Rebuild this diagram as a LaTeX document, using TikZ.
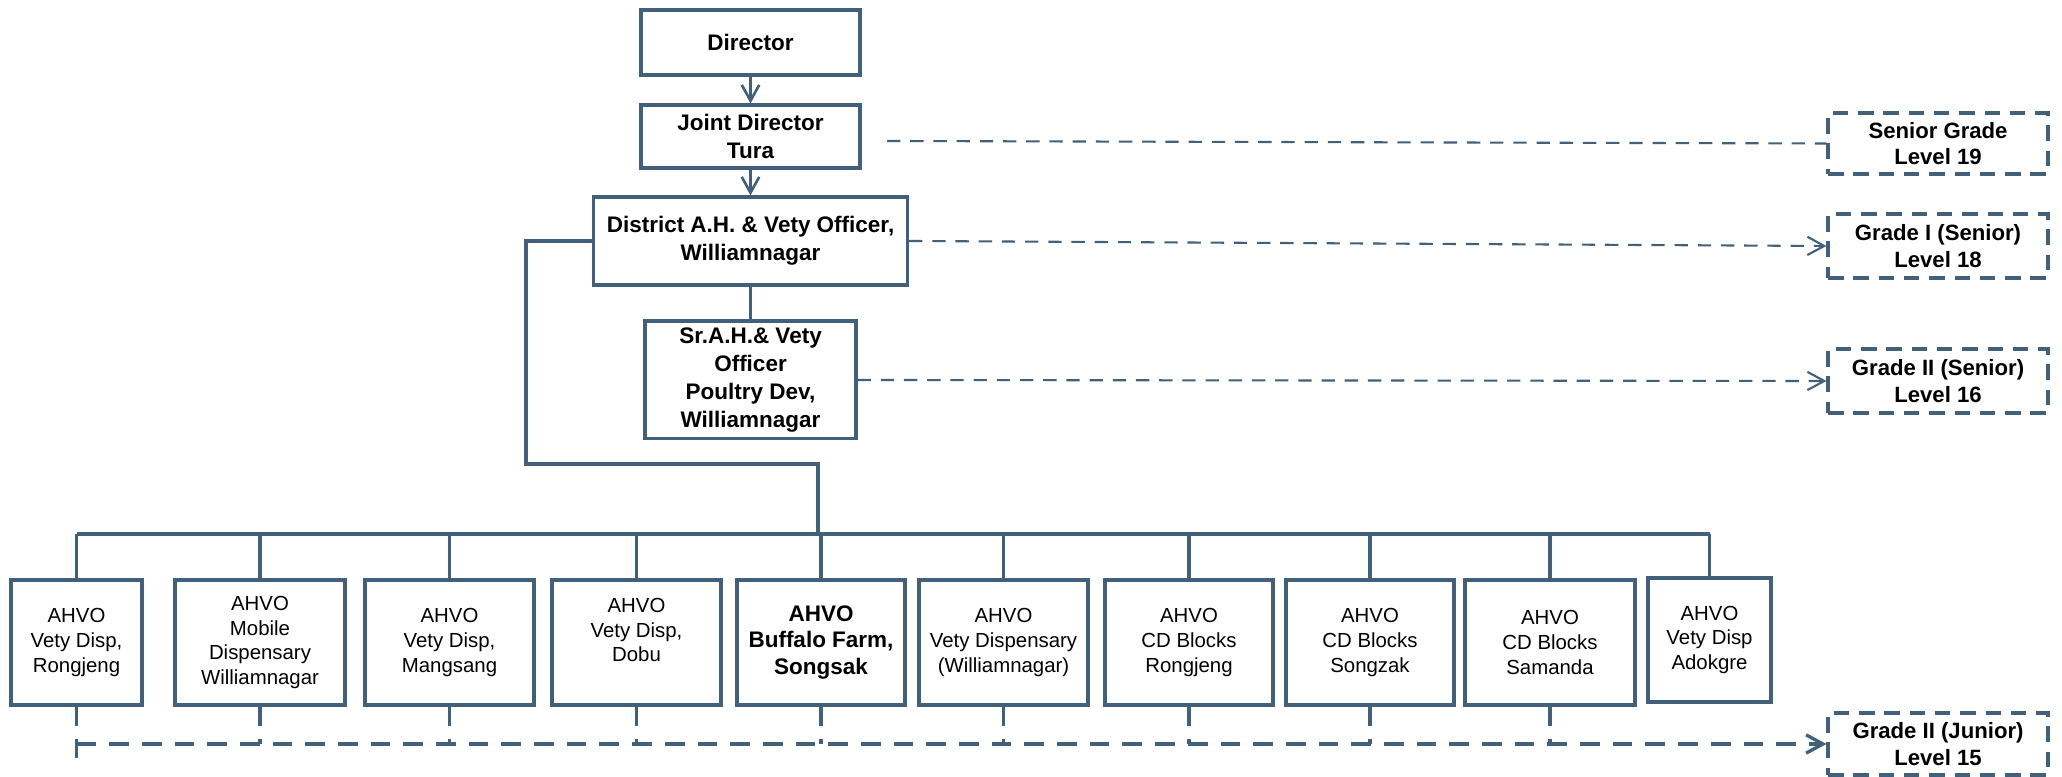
\documentclass[tikz,border=0pt]{standalone}
\usepackage{fontspec}
\setmainfont{Liberation Sans}
\usetikzlibrary{arrows.meta}
\definecolor{linecol}{RGB}{66,96,122}

\tikzset{
	post/.style={shape=rectangle, draw=linecol, line width=0.9pt, align=center, inner sep=2pt, font=\fontsize{6.4}{7.9}\selectfont\bfseries},
	grade/.style={post, dash pattern=on 4.4pt off 2.8pt, minimum width=2.2cm, font=\fontsize{6.3}{7.6}\selectfont\bfseries},
	unit/.style={post, minimum height=1.25cm, font=\fontsize{5.8}{7}\selectfont},
	report/.style={color=linecol, line width=0.75pt, -{Straight Barb[length=4.5pt,width=5pt]}},
	trunk/.style={color=linecol, line width=1.1pt},
	drop/.style={color=linecol, line width=1pt},
	level/.style={color=linecol, line width=0.6pt, dash pattern=on 3.8pt off 2.8pt},
	lowlevel/.style={color=linecol, line width=0.95pt, dash pattern=on 5.6pt off 3.7pt},
	tip/.style={-{Straight Barb[length=4.8pt,width=5.2pt]}}
}

\begin{document}
\begin{tikzpicture}
	\useasboundingbox (0,0) rectangle (20.62,7.77);

	% chain of officers
	\node[post, minimum width=2.19cm, minimum height=0.65cm] (dir)  at (7.505, 7.345) {Director};
	\node[post, minimum width=2.19cm, minimum height=0.63cm] (jd)   at (7.505, 6.405) {Joint Director\\Tura};
	\node[post, minimum width=3.14cm, minimum height=0.88cm] (dist) at (7.505, 5.36)  {District A.H. \& Vety Officer,\\Williamnagar};
	\node[post, minimum width=2.11cm, minimum height=1.14cm] (sr)   at (7.505, 3.97)  {Sr.A.H.\& Vety\\Officer\\Poultry Dev,\\Williamnagar};

	% grades
	\node[grade, minimum height=0.61cm] (sg)  at (19.38, 6.335) {Senior Grade\\Level 19};
	\node[grade, minimum height=0.64cm] (g1)  at (19.38, 5.31)  {Grade I (Senior)\\Level 18};
	\node[grade, minimum height=0.64cm] (g2s) at (19.38, 3.96)  {Grade II (Senior)\\Level 16};
	\node[grade, minimum height=0.62cm] (g2j) at (19.38, 0.33)  {Grade II (Junior)\\Level 15};

	% AHVO units
	\node[unit, minimum width=1.31cm] (b1)  at (0.765, 1.345)  {AHVO\\Vety Disp,\\Rongjeng};
	\node[unit, minimum width=1.70cm] (b2)  at (2.60, 1.345)   {AHVO\\Mobile\\Dispensary\\Williamnagar};
	\node[unit, minimum width=1.69cm] (b3)  at (4.495, 1.345)  {AHVO\\Vety Disp,\\Mangsang};
	\node[unit, minimum width=1.69cm] (b4)  at (6.365, 1.345)  {AHVO\\Vety Disp,\\Dobu\\\mbox{}};
	\node[unit, minimum width=1.68cm, font=\fontsize{6.4}{7.6}\selectfont\bfseries] (b5) at (8.21, 1.345) {AHVO\\Buffalo Farm,\\Songsak};
	\node[unit, minimum width=1.69cm] (b6)  at (10.035, 1.345) {AHVO\\Vety Dispensary\\(Williamnagar)};
	\node[unit, minimum width=1.68cm] (b7)  at (11.89, 1.345)  {AHVO\\CD Blocks\\Rongjeng};
	\node[unit, minimum width=1.68cm] (b8)  at (13.70, 1.345)  {AHVO\\CD Blocks\\Songzak};
	\node[unit, minimum width=1.70cm] (b9)  at (15.50, 1.345)  {AHVO\\CD Blocks\\Samanda};
	\node[unit, minimum width=1.23cm, minimum height=1.24cm] (b10) at (17.095, 1.37) {AHVO\\Vety Disp\\Adokgre};

	\coordinate (turn) at (5.26, 3.13);
	\coordinate (join) at (8.18, 2.43);
	\coordinate (busL) at (0.765, 2.43);
	\coordinate (busR) at (17.095, 2.43);
	\coordinate (jdr)  at (8.87, 6.36);
	\coordinate (lowL) at (0.765, 0.33);
	\coordinate (stub) at (0.765, 0.19);

	\path[report] (dir) edge (jd);
	\path[report] (jd) edge (dist);
	\path[report, -] (dist) edge (sr);

	\draw[trunk] (dist.west) -| (turn) -| (join);
	\draw[trunk] (busL) -- (busR);
	\foreach \b in {b1,b2,b3,b4,b5,b6,b7,b8,b9,b10}
		\draw[drop] (\b.north) -- (\b.north |- busL);

	\path[level] (jdr) edge (sg.west);
	\path[level, tip] (dist.east) edge (g1.west);
	\path[level, tip] (sr.east) edge (g2s.west);

	\draw[lowlevel] (b1.south) -- (stub);
	\foreach \b in {b2,b3,b4,b5,b6,b7,b8,b9}
		\draw[lowlevel] (\b.south) -- (\b.south |- lowL);
	\path[lowlevel, tip] (lowL) edge (g2j.west);
\end{tikzpicture}
\end{document}
